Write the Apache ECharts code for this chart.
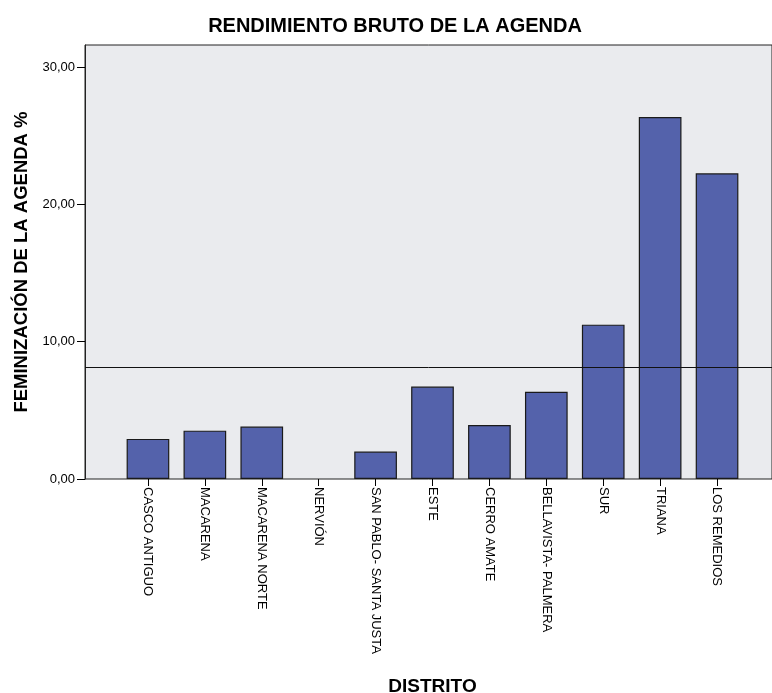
<!DOCTYPE html>
<html>
<head>
<meta charset="utf-8">
<script src="https://cdn.jsdelivr.net/npm/echarts@6/dist/echarts.min.js"></script>
<style>html,body{margin:0;padding:0;background:#fff}#c{width:772px;height:693px}</style>
</head>
<body>
<div id="c"></div>
<script>
const categories = ['CASCO ANTIGUO','MACARENA','MACARENA NORTE','NERVIÓN','SAN PABLO- SANTA JUSTA','ESTE','CERRO AMATE','BELLAVISTA- PALMERA','SUR','TRIANA','LOS REMEDIOS'];
const values = [2.92, 3.52, 3.82, 0, 2.0, 6.73, 3.93, 6.35, 11.24, 26.36, 22.26];
const referenceValue = 8.12;
const yTicks = [0, 10, 20, 30];
const titleText = 'RENDIMIENTO BRUTO DE LA AGENDA';
const xName = 'DISTRITO';
const yName = 'FEMINIZACIÓN DE LA AGENDA %';

const font = "'Liberation Sans', Arial, sans-serif";
const chart = echarts.init(document.getElementById('c'), null, {renderer: 'canvas'});
const yMax = 31.6;
chart.setOption({
  animation: false,
  title: {
    text: titleText, left: 390, top: 11, textAlign: 'center',
    textStyle: {fontFamily: font, fontSize: 20, fontWeight: 'bold', color: '#000'}
  },
  grid: [
    {left: 85, top: 45, right: 0, height: 434, show: true, backgroundColor: '#eaebee', borderColor: '#222', borderWidth: 1, outerBoundsMode: 'none', containLabel: false},
    {left: 119.5, top: 45, width: 626, height: 434, outerBoundsMode: 'none', containLabel: false}
  ],
  xAxis: [
    {type: 'value', gridIndex: 0, min: 0, max: 1, show: false},
    {type: 'category', gridIndex: 1, data: categories,
     name: xName, nameLocation: 'middle', nameGap: 198,
     nameTextStyle: {fontFamily: font, fontSize: 19, fontWeight: 'bold', color: '#000'},
     axisLine: {show: false},
     axisTick: {show: true, alignWithLabel: true, length: 7, lineStyle: {color: '#000'}},
     axisLabel: {rotate: -90, interval: 0, fontFamily: font, fontSize: 13, color: '#000', margin: 8}
    }
  ],
  yAxis: [
    {type: 'value', gridIndex: 0, min: 0, max: yMax, interval: 10,
     name: yName, nameLocation: 'middle', nameGap: 54, nameRotate: 90,
     nameTextStyle: {fontFamily: font, fontSize: 18.5, fontWeight: 'bold', color: '#000'},
     axisLine: {show: true, lineStyle: {color: '#222'}},
     axisTick: {show: true, length: 8, lineStyle: {color: '#000'}},
     splitLine: {show: false},
     axisLabel: {fontFamily: font, fontSize: 13, color: '#000', margin: 10,
       showMaxLabel: false,
       formatter: v => yTicks.includes(v) ? v.toFixed(2).replace('.', ',') : ''}
    },
    {type: 'value', gridIndex: 1, min: 0, max: yMax, show: false}
  ],
  series: [
    {type: 'bar', xAxisIndex: 1, yAxisIndex: 1,
     data: values.map(v => ({value: v, itemStyle: v === 0 ? {borderWidth: 0, opacity: 0} : undefined})),
     barCategoryGap: '25%',
     itemStyle: {color: '#5462ab', borderColor: '#1a1a1a', borderWidth: 1.2}, z: 2},
    {type: 'line', xAxisIndex: 0, yAxisIndex: 0, data: [], z: 5,
     markLine: {silent: true, symbol: 'none', label: {show: false},
       lineStyle: {color: '#111', width: 1, type: 'solid'},
       data: [[{coord: [0, referenceValue]}, {coord: [1, referenceValue]}]]}
    }
  ]
});
</script>
</body>
</html>
